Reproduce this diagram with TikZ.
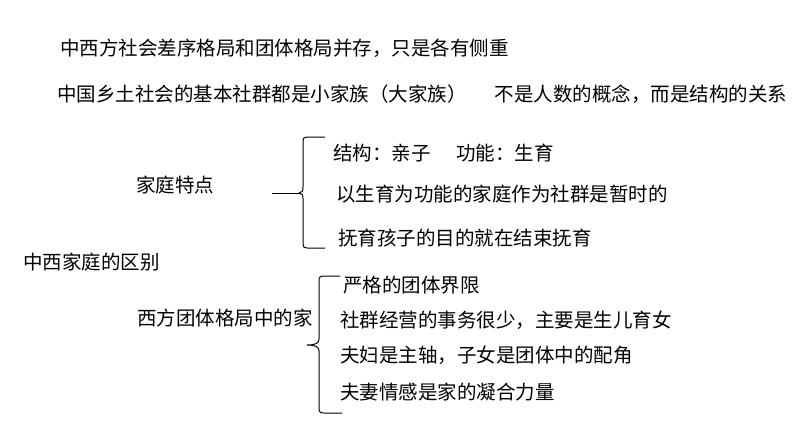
\documentclass[tikz,border=0pt]{standalone}
\usepackage{fontspec}
\newfontfamily\cjk{Noto Sans CJK SC}
\usetikzlibrary{positioning}
\tikzset{
    txt/.style={anchor=west, inner sep=0pt, font=\cjk\fontsize{19.5}{23}\selectfont},
    bracepath/.style={line width=1pt, line join=round},
}

\begin{document}
\begin{tikzpicture}
        [x=1pt, y=-1pt]
        \useasboundingbox (0,0) rectangle (794,447);

        \node[txt] (head) at (60,48) {中西方社会差序格局和团体格局并存，只是各有侧重};
        \node[txt] (group) at (57,94) {中国乡土社会的基本社群都是小家族（大家族）\hspace{1.45em}不是人数的概念，而是结构的关系};

        \node[txt] (feat) at (136,185) {家庭特点};
        \node[txt] (f1) at (333,153) {结构：亲子\hspace{1.3em}功能：生育};
        \node[txt] (f2) at (336,194) {以生育为功能的家庭作为社群是暂时的};
        \node[txt] (f3) at (338,238) {抚育孩子的目的就在结束抚育};

        \node[txt] (diff) at (23,262) {中西家庭的区别};

        \node[txt] (west) at (137,318) {西方团体格局中的家};
        \node[txt] (w1) at (343,285) {严格的团体界限};
        \node[txt] (w2) at (340,320) {社群经营的事务很少，主要是生儿育女};
        \node[txt] (w3) at (340,355) {夫妇是主轴，子女是团体中的配角};
        \node[txt] (w4) at (340,392) {夫妻情感是家的凝合力量};

        % brace for the family features
        \coordinate (b1in) at (272,193);
        \coordinate (b1tip) at (299,193);
        \draw[bracepath] (b1in) -- (b1tip);
        \draw[bracepath] (325,137) -- (307,137) .. controls (304,137) and (303,138) .. (303,141)
            -- (303,187) .. controls (303,191) and (302,193) .. (b1tip)
            .. controls (302,193) and (303,195) .. (303,199)
            -- (303,244) .. controls (303,247) and (304,248) .. (307,248) -- (325,248);

        % brace for the western family
        \coordinate (b2tip) at (307,345);
        \draw[bracepath] (340,276) -- (324,276) .. controls (320,276) and (319,277) .. (319,281)
            -- (319,339) .. controls (319,343) and (316,345) .. (b2tip)
            .. controls (316,345) and (319,347) .. (319,351)
            -- (319,408) .. controls (319,412) and (320,413) .. (324,413) -- (342,413);

    \end{tikzpicture}
\end{document}
